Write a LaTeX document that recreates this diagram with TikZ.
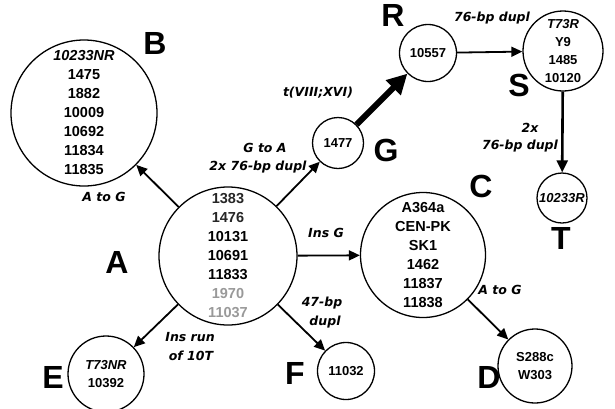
\documentclass[tikz,border=0pt]{standalone}
\usepackage{fontspec}
\setmainfont{Liberation Sans}
\newfontfamily\labelfont{DejaVu Sans}
\usetikzlibrary{arrows.meta}
\definecolor{faded}{gray}{0.6}
\begin{document}
\begin{tikzpicture}[x=1pt,y=-1pt,
  strain/.style={circle,draw,line width=1.3pt,inner sep=0pt,minimum size=#1,
    font=\fontsize{14.5}{19}\selectfont\bfseries,align=center},
  small/.style={font=\fontsize{13}{18}\selectfont\bfseries},
  tag/.style={font=\fontsize{32}{32}\selectfont\bfseries,inner sep=0pt},
  lbl/.style={font=\labelfont\fontsize{12.5}{18}\selectfont\bfseries\itshape,align=center,inner sep=0pt},
  link/.style={line width=1.8pt,-{Triangle[length=11pt,width=10pt]}},
]
\useasboundingbox (0,0) rectangle (615,408);

% strain groups
\node[strain=138pt] (A) at (228,256) {\textcolor{black!85}{1383}\\\textcolor{black!85}{1476}\\10131\\10691\\11833\\
  \textcolor{faded}{1970}\\\textcolor{faded}{11037}};
\node[strain=146pt] (B) at (84,113) {\textit{10233NR}\\1475\\1882\\10009\\10692\\11834\\11835};
\node[strain=125pt] (C) at (423,255) {A364a\\CEN-PK\\SK1\\1462\\11837\\11838};
\node[strain=74pt,small] (D) at (535,366) {S288c\\W303};
\node[strain=76pt,small] (E) at (106,374) {\textit{T73NR}\\10392};
\node[strain=57pt,small] (F) at (346,371) {11032};
\node[strain=51pt,small] (G) at (338,143) {1477};
\node[strain=57pt,small] (R) at (428,53) {10557};
\node[strain=80pt,small] (S) at (563,51) {\textit{T73R}\\Y9\\1485\\10120};
\node[strain=50pt,small] (T) at (562,198) {\textit{10233R}};

% group letters
\node[tag] (tA) at (117,262) {A};
\node[tag] (tB) at (155,43) {B};
\node[tag] (tC) at (481,186) {C};
\node[tag] (tD) at (489,377) {D};
\node[tag] (tE) at (53,377) {E};
\node[tag] (tF) at (295,373) {F};
\node[tag] (tG) at (386,150) {G};
\node[tag] (tR) at (393,15) {R};
\node[tag] (tS) at (519,85) {S};
\node[tag] (tT) at (561,238) {T};

% transitions
\draw[link] (A) -- (B);
\draw[link] (A) -- (G);
\draw[link] (A) -- (C);
\draw[link] (A) -- (E);
\draw[link] (A) -- (F);
\draw[link] (C) -- (D);
\draw[link] (R) -- (S);
\draw[line width=2.6pt,-{Triangle[length=12pt,width=11pt]}] (S) -- (T);
\draw[line width=6pt,-{Triangle[length=20pt,width=20pt]}] (G) -- (R);

% mutation labels
\node[lbl] (lAB) at (104,197) {A to G};
\node[lbl] (lAG1) at (265,148) {G to A};
\node[lbl] (lAG2) at (258,167) {2x 76-bp dupl};
\node[lbl] (lGR) at (318,93) {t(VIII;XVI)};
\node[lbl] (lRS) at (492,18) {76-bp dupl};
\node[lbl] (lST1) at (530,128) {2x};
\node[lbl] (lST2) at (520,146) {76-bp dupl};
\node[lbl] (lAC) at (326,233) {Ins G};
\node[lbl] (lCD) at (500,290) {A to G};
\node[lbl] (lAE1) at (190,337) {Ins run};
\node[lbl] (lAE2) at (191,356) {of 10T};
\node[lbl] (lAF1) at (322,303) {47-bp};
\node[lbl] (lAF2) at (325,322) {dupl};
\end{tikzpicture}
\end{document}
